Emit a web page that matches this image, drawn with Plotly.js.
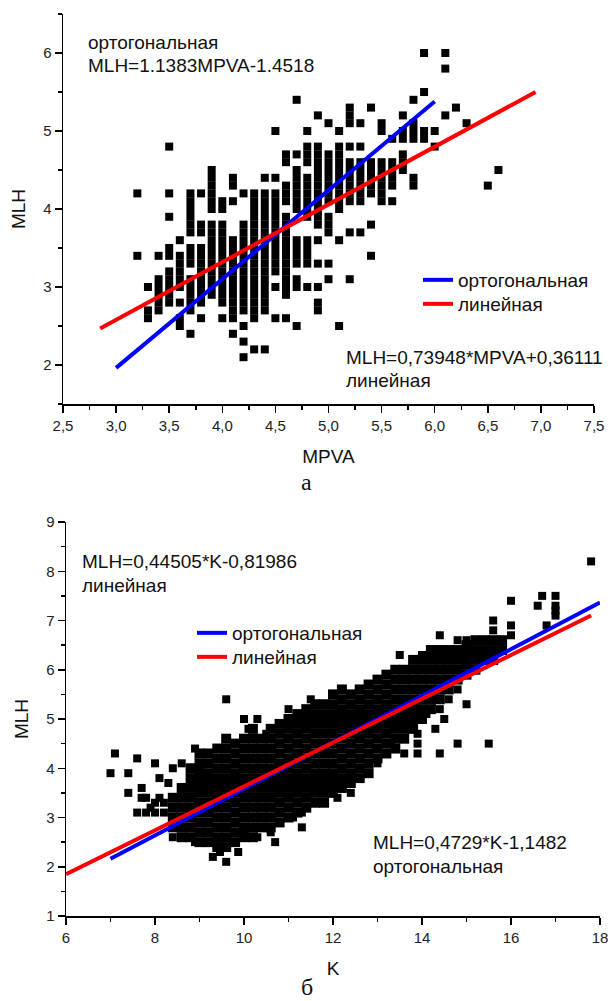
<!DOCTYPE html>
<html>
<head>
<meta charset="utf-8">
<script src="https://cdn.plot.ly/plotly-3.0.1.min.js"></script>
<style>html,body{margin:0;padding:0;background:#fff;}#chart{width:612px;height:1001px;}</style>
</head>
<body>
<div id="chart"></div>
<script>
// ---------- Panel (а): MLH vs MPVA ----------
const topMPVA = [3.2, 3.3, 3.4, 3.5, 3.6, 3.7, 3.8, 3.9, 4.0, 4.1, 4.2, 4.3, 4.4, 4.5,
  4.6, 4.7, 4.8, 4.9, 5.0, 5.1, 5.2, 5.3, 5.4, 5.5, 5.6, 5.7, 5.8, 5.9, 6.0, 6.1, 6.2, 6.3, 6.5, 6.6];
const topMLH = [
  [4.2, 3.4],
  [3.0, 2.7, 2.6],
  [3.4, 3.1, 3.0, 2.9, 2.8, 2.7],
  [4.8, 4.2, 3.9, 3.5, 3.4, 3.2, 3.1, 3.0, 2.9, 2.8],
  [3.6, 3.4, 3.3, 3.2, 3.1, 3.0, 2.8, 2.6, 2.5],
  [4.2, 4.1, 4.0, 3.9, 3.8, 3.7, 3.5, 3.4, 3.3, 3.1, 3.0, 2.9, 2.8, 2.7, 2.4],
  [4.2, 3.8, 3.7, 3.5, 3.4, 3.3, 3.2, 3.1, 3.0, 2.9, 2.8, 2.6],
  [4.5, 4.4, 4.3, 4.2, 4.1, 4.0, 3.8, 3.7, 3.6, 3.5, 3.4, 3.3, 3.2, 3.1, 3.0, 2.9],
  [4.1, 4.0, 3.8, 3.7, 3.6, 3.5, 3.4, 3.3, 3.2, 3.1, 3.0, 2.9, 2.8, 2.6],
  [4.4, 4.3, 4.1, 3.6, 3.5, 3.4, 3.3, 3.2, 3.1, 3.0, 2.9, 2.8, 2.7, 2.6, 2.4],
  [4.2, 3.8, 3.7, 3.6, 3.5, 3.4, 3.3, 3.2, 3.1, 3.0, 2.9, 2.8, 2.7, 2.5, 2.3, 2.1],
  [4.2, 4.1, 4.0, 3.9, 3.8, 3.7, 3.6, 3.5, 3.4, 3.3, 3.2, 3.1, 3.0, 2.9, 2.8, 2.7, 2.6, 2.2],
  [4.4, 4.2, 4.1, 4.0, 3.9, 3.8, 3.7, 3.6, 3.5, 3.4, 3.3, 3.2, 3.1, 3.0, 2.9, 2.8, 2.7, 2.2],
  [5.0, 4.4, 4.2, 4.1, 4.0, 3.9, 3.8, 3.7, 3.6, 3.5, 3.4, 3.3, 3.2, 3.0, 2.6],
  [4.7, 4.6, 4.3, 4.2, 4.1, 3.9, 3.8, 3.7, 3.6, 3.5, 3.4, 3.3, 3.2, 3.1, 3.0, 2.9, 2.6],
  [5.4, 4.7, 4.5, 4.4, 4.3, 4.2, 4.1, 4.0, 3.6, 3.5, 3.4, 3.3, 3.1, 3.0, 2.5],
  [5.0, 4.8, 4.7, 4.6, 4.4, 4.3, 4.2, 4.1, 4.0, 3.9, 3.6, 3.5, 3.4, 3.3, 3.0],
  [5.2, 4.8, 4.7, 4.6, 4.5, 4.4, 4.3, 4.2, 4.1, 4.0, 3.9, 3.8, 3.6, 3.3, 3.0, 2.8, 2.7],
  [5.1, 4.7, 4.6, 4.5, 4.4, 4.3, 4.2, 4.1, 3.9, 3.8, 3.7, 3.3, 3.1],
  [5.0, 4.8, 4.7, 4.6, 4.5, 4.4, 4.3, 4.2, 4.1, 4.0, 3.6, 2.5],
  [5.3, 5.2, 5.1, 4.8, 4.6, 4.5, 4.4, 4.3, 4.2, 4.1, 3.7, 3.1],
  [5.1, 4.8, 4.6, 4.5, 4.4, 4.3, 4.2, 4.1, 3.7],
  [5.3, 4.6, 4.5, 4.4, 4.3, 4.2, 3.8, 3.4],
  [5.1, 5.0, 4.6, 4.5, 4.4, 4.3, 4.2, 4.1],
  [4.9, 4.6, 4.5, 4.4, 4.3, 4.1],
  [5.2, 5.0, 4.9, 4.7, 4.6, 4.5],
  [5.4, 5.1, 5.0, 4.9, 4.4, 4.3],
  [6.0, 5.5, 5.0, 4.9],
  [5.0, 4.8],
  [6.0, 5.8, 5.2],
  [5.3],
  [5.1],
  [4.3],
  [4.5]
];
// fitted lines, panel а: MLH = a*MPVA + b
const topOrthoCoef = [1.1383, -1.4518];
const topOrthoX = [3.0, 6.0];
const topLinCoef = [0.73948, 0.36111];
const topLinX = [2.85, 6.95];

// ---------- Panel (б): MLH vs K ----------
const botColK = [8.4, 8.6, 8.8, 9.0, 9.2, 9.4, 9.6, 9.8, 10.0, 10.2, 10.4, 10.6, 10.8,
  11.0, 11.2, 11.4, 11.6, 11.8, 12.0, 12.2, 12.4, 12.6, 12.8, 13.0, 13.2, 13.4, 13.6,
  13.8, 14.0, 14.2, 14.4, 14.6, 14.8, 15.0, 15.2, 15.4, 15.6, 15.8];
const botColMLH = [
  [2.8, 3.0, 3.2, 3.4],
  [2.6, 2.8, 3.0, 3.2, 3.4, 3.6],
  [2.6, 2.8, 3.0, 3.2, 3.4, 3.6, 3.8, 4.0],
  [2.5, 2.7, 2.9, 3.1, 3.3, 3.5, 3.7, 3.9, 4.1, 4.3],
  [2.5, 2.7, 2.9, 3.1, 3.3, 3.5, 3.7, 3.9, 4.1, 4.3],
  [2.4, 2.6, 2.8, 3.0, 3.2, 3.4, 3.6, 3.8, 4.0, 4.2, 4.4],
  [2.4, 2.6, 2.8, 3.0, 3.2, 3.4, 3.6, 3.8, 4.0, 4.2, 4.4, 4.6],
  [2.5, 2.7, 2.9, 3.1, 3.3, 3.5, 3.7, 3.9, 4.1, 4.3, 4.5],
  [2.6, 2.8, 3.0, 3.2, 3.4, 3.6, 3.8, 4.0, 4.2, 4.4, 4.6],
  [2.6, 2.8, 3.0, 3.2, 3.4, 3.6, 3.8, 4.0, 4.2, 4.4, 4.6, 4.8],
  [2.8, 3.0, 3.2, 3.4, 3.6, 3.8, 4.0, 4.2, 4.4, 4.6],
  [2.8, 3.0, 3.2, 3.4, 3.6, 3.8, 4.0, 4.2, 4.4, 4.6, 4.8],
  [2.9, 3.1, 3.3, 3.5, 3.7, 3.9, 4.1, 4.3, 4.5, 4.7, 4.9],
  [3.0, 3.2, 3.4, 3.6, 3.8, 4.0, 4.2, 4.4, 4.6, 4.8, 5.0],
  [3.1, 3.3, 3.5, 3.7, 3.9, 4.1, 4.3, 4.5, 4.7, 4.9, 5.1],
  [3.2, 3.4, 3.6, 3.8, 4.0, 4.2, 4.4, 4.6, 4.8, 5.0, 5.2],
  [3.3, 3.5, 3.7, 3.9, 4.1, 4.3, 4.5, 4.7, 4.9, 5.1, 5.3],
  [3.3, 3.5, 3.7, 3.9, 4.1, 4.3, 4.5, 4.7, 4.9, 5.1, 5.3],
  [3.5, 3.7, 3.9, 4.1, 4.3, 4.5, 4.7, 4.9, 5.1, 5.3, 5.5],
  [3.6, 3.8, 4.0, 4.2, 4.4, 4.6, 4.8, 5.0, 5.2, 5.4, 5.6],
  [3.7, 3.9, 4.1, 4.3, 4.5, 4.7, 4.9, 5.1, 5.3, 5.5],
  [3.8, 4.0, 4.2, 4.4, 4.6, 4.8, 5.0, 5.2, 5.4, 5.6],
  [3.9, 4.1, 4.3, 4.5, 4.7, 4.9, 5.1, 5.3, 5.5, 5.7],
  [4.2, 4.4, 4.6, 4.8, 5.0, 5.2, 5.4, 5.6, 5.8],
  [4.3, 4.5, 4.7, 4.9, 5.1, 5.3, 5.5, 5.7, 5.9],
  [4.4, 4.6, 4.8, 5.0, 5.2, 5.4, 5.6, 5.8, 6.0],
  [4.6, 4.8, 5.0, 5.2, 5.4, 5.6, 5.8, 6.0],
  [4.8, 5.0, 5.2, 5.4, 5.6, 5.8, 6.0, 6.2],
  [5.0, 5.2, 5.4, 5.6, 5.8, 6.0, 6.2],
  [5.2, 5.4, 5.6, 5.8, 6.0, 6.2, 6.4],
  [5.4, 5.6, 5.8, 6.0, 6.2, 6.4],
  [5.6, 5.8, 6.0, 6.2, 6.4],
  [5.8, 6.0, 6.2, 6.4],
  [5.9, 6.1, 6.3, 6.5],
  [6.0, 6.2, 6.4, 6.6],
  [6.2, 6.4, 6.6],
  [6.2, 6.4, 6.6],
  [6.4, 6.6]
];
// scattered points outside the dense cloud
const botOutK = [7.0, 7.1, 7.4, 7.4, 7.6, 7.6, 7.7, 7.7, 7.8, 7.8, 7.9, 8.0, 8.0, 8.0, 8.1, 8.1, 8.2, 8.2, 8.3, 8.4, 8.4, 8.6, 8.6,
  8.9, 9.0, 8.9, 9.05, 9.3, 9.46, 9.6, 9.87, 10.0, 10.3, 10.7, 10.6, 11.3, 11.1, 11.3,
  9.6, 10.0, 10.3, 10.1, 9.6, 10.5, 11.0, 11.5, 11.26,
  12.1, 12.4, 13.0, 13.3, 13.6, 13.9, 13.9, 13.9, 14.3, 14.4, 14.4, 14.5, 14.1, 14.6, 14.8, 15.0, 14.8, 15.5,
  13.5, 14.0, 14.4, 14.8, 15.0, 15.6, 15.6, 16.0, 16.0, 16.0, 16.6, 16.7, 16.8, 17.0, 17.0, 17.0, 17.0, 17.8];
const botOutMLH = [3.9, 4.3, 3.9, 3.5, 4.2, 3.1, 3.6, 3.4, 3.4, 3.1, 3.2, 4.1, 3.3, 3.1, 3.8, 3.4, 3.3, 3.1, 3.7, 4.0, 2.6, 4.1, 2.6,
  4.4, 4.0, 2.5, 2.5, 2.2, 2.3, 2.1, 2.3, 2.7, 2.6, 2.5, 2.7, 2.8, 3.0, 3.1,
  5.4, 5.0, 5.0, 4.8, 4.6, 4.7, 5.2, 5.4, 5.0,
  3.4, 3.5, 4.1, 4.5, 4.3, 4.7, 4.5, 4.3, 4.8, 4.3, 5.2, 5.0, 5.1, 5.4, 5.6, 5.3, 4.5, 4.5,
  6.3, 6.3, 6.7, 6.6, 6.6, 7.0, 6.8, 7.4, 6.9, 6.7, 7.3, 7.5, 6.9, 7.5, 7.3, 7.2, 7.1, 8.2];
// fitted lines, panel б: MLH = a*K + b
const botOrthoCoef = [0.4729, -1.1482];
const botOrthoX = [7.0, 18.0];
const botLinCoef = [0.44505, -0.81986];
const botLinX = [6.0, 17.8];

// ---------- build ----------
function flatten(xs, ys) {
  const X = [], Y = [];
  xs.forEach((x, i) => ys[i].forEach(y => { X.push(x); Y.push(y); }));
  return [X, Y];
}
const [tX, tY] = flatten(topMPVA, topMLH);
const [bX, bY] = flatten(botColK, botColMLH);
const lineY = (c, xs) => xs.map(x => c[0] * x + c[1]);

const W = 612, H = 1001;
const PX = x => x / W, PY = y => 1 - y / H;
const BLUE = '#0000ff', RED = '#ff0000';
const sq = {symbol: 'square', size: 8, color: '#000'};
const sqCloud = {symbol: 'square', size: 10, color: '#000'};

const traces = [
  {x: tX, y: tY, xaxis: 'x', yaxis: 'y', type: 'scatter', mode: 'markers', marker: sq, showlegend: false, hoverinfo: 'skip'},
  {x: topOrthoX, y: lineY(topOrthoCoef, topOrthoX), xaxis: 'x', yaxis: 'y', type: 'scatter', mode: 'lines',
   line: {color: BLUE, width: 4}, name: 'ортогональная', legend: 'legend'},
  {x: topLinX, y: lineY(topLinCoef, topLinX), xaxis: 'x', yaxis: 'y', type: 'scatter', mode: 'lines',
   line: {color: RED, width: 4}, name: 'линейная', legend: 'legend3'},
  {x: bX, y: bY, xaxis: 'x2', yaxis: 'y2', type: 'scatter', mode: 'markers', marker: sqCloud, showlegend: false, hoverinfo: 'skip'},
  {x: botOutK, y: botOutMLH, xaxis: 'x2', yaxis: 'y2', type: 'scatter', mode: 'markers', marker: sq, showlegend: false, hoverinfo: 'skip'},
  {x: botOrthoX, y: lineY(botOrthoCoef, botOrthoX), xaxis: 'x2', yaxis: 'y2', type: 'scatter', mode: 'lines',
   line: {color: BLUE, width: 4}, name: 'ортогональная', legend: 'legend2'},
  {x: botLinX, y: lineY(botLinCoef, botLinX), xaxis: 'x2', yaxis: 'y2', type: 'scatter', mode: 'lines',
   line: {color: RED, width: 4}, name: 'линейная', legend: 'legend4'}
];

const FONT = 'Arial, "Liberation Sans", sans-serif';
const tickFont = {family: FONT, size: 15, color: '#222'};
function ax(extra) {
  return Object.assign({
    showline: true, linecolor: '#000', linewidth: 1.5, mirror: false,
    ticks: 'outside', ticklen: 7, tickwidth: 1.5, tickcolor: '#000',
    showgrid: false, zeroline: false, tickfont: tickFont, fixedrange: true
  }, extra);
}
const minor = d => ({ticks: 'outside', ticklen: 4, tickwidth: 1.5, tickcolor: '#000', dtick: d, showgrid: false});

const txt = (s, x, y, opts) => Object.assign({
  text: s, xref: 'paper', yref: 'paper', x: PX(x), y: PY(y),
  xanchor: 'left', yanchor: 'middle', showarrow: false,
  font: {family: FONT, size: 19, color: '#111'}
}, opts || {});
const serif = {family: '"Times New Roman", "Liberation Serif", serif', size: 24, color: '#111'};
const leg = (x, y) => ({x: PX(x), y: PY(y), xanchor: 'left', yanchor: 'middle', bgcolor: 'rgba(0,0,0,0)',
  font: {family: FONT, size: 19, color: '#111'}, tracegroupgap: 0});

const layout = {
  width: W, height: H, margin: {l: 0, r: 0, t: 0, b: 0},
  paper_bgcolor: '#fff', plot_bgcolor: '#fff',
  separators: ', ',
  xaxis: ax({domain: [PX(63), PX(594)], range: [2.5, 7.5], anchor: 'y', tick0: 2.5, dtick: 0.5, tickformat: '.1f',
    minor: minor(0.25), title: {text: 'MPVA', font: {family: FONT, size: 19, color: '#111'}, standoff: 17}}),
  yaxis: ax({domain: [PY(404), PY(14)], range: [1.5, 6.5], anchor: 'x', tick0: 0, dtick: 1,
    minor: minor(0.5), title: {text: 'MLH', font: {family: FONT, size: 19, color: '#111'}, standoff: 12}}),
  xaxis2: ax({domain: [PX(66), PX(600)], range: [6, 18], anchor: 'y2', tick0: 0, dtick: 2,
    minor: minor(1), title: {text: 'K', font: {family: FONT, size: 19, color: '#111'}, standoff: 17}}),
  yaxis2: ax({domain: [PY(916), PY(522)], range: [1, 9], anchor: 'x2', tick0: 0, dtick: 1,
    minor: minor(0.5), title: {text: 'MLH', font: {family: FONT, size: 19, color: '#111'}, standoff: 12}}),
  legend: leg(418, 280),
  legend3: leg(418, 304),
  legend2: leg(192, 633),
  legend4: leg(192, 657),
  annotations: [
    txt('ортогональная', 86, 43),
    txt('MLH=1.1383MPVA-1.4518', 86, 66),
    txt('MLH=0,73948*MPVA+0,36111', 344, 357),
    txt('линейная', 344, 380),
    txt('а', 306, 482, {xanchor: 'center', font: serif}),
    txt('MLH=0,44505*K-0,81986', 80, 561),
    txt('линейная', 80, 585),
    txt('MLH=0,4729*K-1,1482', 371, 842),
    txt('ортогональная', 371, 866),
    txt('б', 307, 987, {xanchor: 'center', font: serif})
  ]
};

Plotly.newPlot('chart', traces, layout, {displayModeBar: false, staticPlot: true});
</script>
</body>
</html>
